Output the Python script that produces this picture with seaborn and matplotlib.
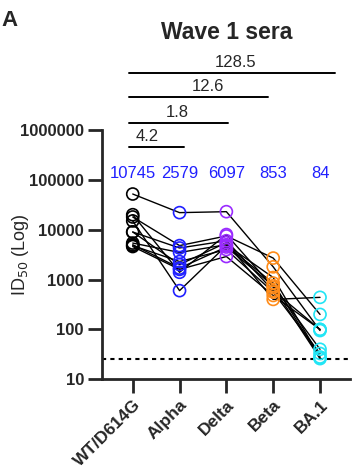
import matplotlib
matplotlib.use("Agg")
import matplotlib.pyplot as plt
import seaborn as sns
import pandas as pd
import numpy as np

variants = ["WT/D614G", "Alpha", "Delta", "Beta", "BA.1"]
colors = ["#000000", "#2020ff", "#9a2bff", "#ff8c1a", "#22e5f5"]
gmt_labels = ["10745", "2579", "6097", "853", "84"]

wt    = [52000, 20000, 18000, 15000, 9000, 9000, 5400, 5000, 4800, 4600]
alpha = [22000, 1400, 4800, 600, 4300, 2000, 3500, 1700, 2300, 1600]
delta = [23000, 8000, 7500, 4800, 6000, 5500, 5000, 4500, 4000, 2900]
beta  = [1800, 700, 2700, 850, 600, 400, 1100, 750, 560, 480]
ba1   = [95, 26, 200, 27, 100, 440, 28, 40, 33, 100]

fold_labels = ["4.2", "1.8", "12.6", "128.5"]
threshold = 25

series = [wt, alpha, delta, beta, ba1]
rows = []
for vi, vals in enumerate(series):
    for di, v in enumerate(vals):
        rows.append({"donor": di, "variant": variants[vi], "pos": vi, "titer": v})
df = pd.DataFrame(rows)

sns.set_style("ticks")
plt.rcParams["font.family"] = ["Liberation Sans", "DejaVu Sans"]

fig = plt.figure(figsize=(3.52, 4.72), dpi=100)
ax = fig.add_axes([0.2898, 0.1964, 0.7045, 0.5282])

sns.lineplot(data=df, x="pos", y="titer", units="donor", estimator=None,
             color="black", linewidth=1.0, ax=ax, legend=False, zorder=2)
sns.scatterplot(data=df, x="pos", y="titer", hue="variant", palette=colors,
                hue_order=variants, marker="o", s=75, facecolors="none",
                linewidth=1.2, ax=ax, legend=False, zorder=3)
for coll in ax.collections:
    fc = coll.get_facecolors()
    if len(fc):
        coll.set_edgecolors(fc)
        coll.set_facecolors("none")

ax.set_yscale("log")
ax.set_ylim(10, 1e6)
ax.set_xlim(-0.656, 4.64)
ax.axhline(threshold, color="black", linestyle=(0, (2, 2)), linewidth=1.5, zorder=1)

ax.set_xticks(range(len(variants)))
ax.set_xticklabels(variants, rotation=45, ha="right", rotation_mode="anchor",
                   fontweight="bold", fontsize=12.5)
yt = [10, 100, 1000, 10000, 100000, 1000000]
ax.set_yticks(yt)
ax.set_yticklabels([str(t) for t in yt], fontweight="bold", fontsize=12)
ax.minorticks_off()
ax.tick_params(axis="both", length=10, width=2, direction="out", pad=3)
for s in ["left", "bottom"]:
    ax.spines[s].set_linewidth(2)
for s in ["top", "right"]:
    ax.spines[s].set_visible(False)
ax.set_xlabel("")
ax.set_ylabel("ID$_{50}$ (Log)", fontsize=13)
ax.yaxis.set_label_coords(-0.285, 0.5)

for i, lab in enumerate(gmt_labels):
    ax.text(i, 10 ** 5.13, lab, color="#2020ff", fontsize=12, ha="center", va="center")

# fold-change brackets
def ylog(ypix):
    return 10 ** (1 + (379.3 - ypix) / 49.9)

line_y = [146.7, 122.7, 97.0, 72.3]
right_x = [1.10, 2.03, 2.88, 4.32]
text_x = [0.30, 0.95, 1.6, 2.2]
for ly, rx, tx, lab in zip(line_y, right_x, text_x, fold_labels):
    ax.plot([-0.07, rx], [ylog(ly), ylog(ly)], color="black", linewidth=1.4,
            clip_on=False)
    ax.text(tx, ylog(ly - 3), lab, fontsize=12, ha="center", va="bottom",
            clip_on=False)

fig.text(0.645, 0.932, "Wave 1 sera", fontsize=16.5, fontweight="bold",
         ha="center", va="center")
fig.text(0.003, 0.957, "A", fontsize=16, fontweight="bold", ha="left", va="center")

fig.savefig("out.png", dpi=100)
